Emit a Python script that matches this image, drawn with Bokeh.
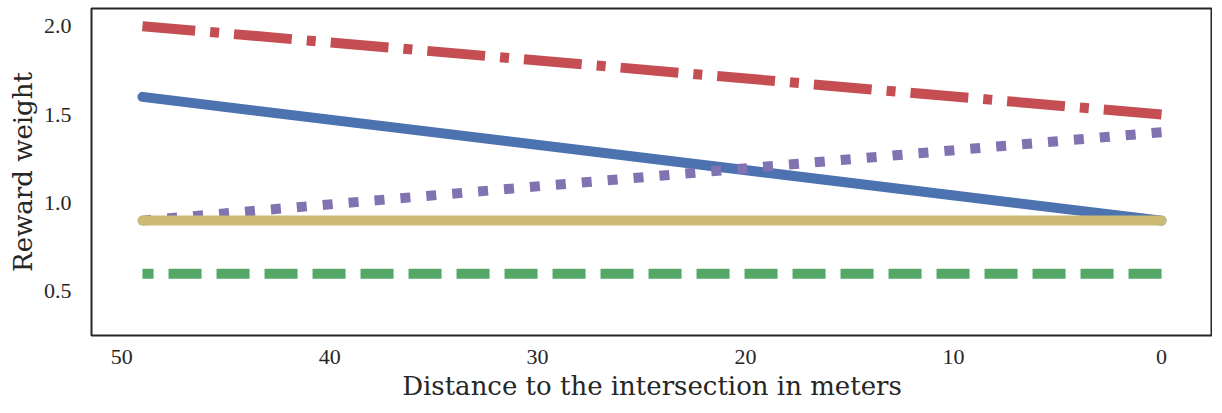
from bokeh.plotting import figure
from bokeh.models import Range1d, FixedTicker
from bokeh.embed import file_html
from bokeh.resources import INLINE

# Data (distance in meters -> reward weight)
distance = [0, 49]
w_blue = [0.9, 1.6]      # solid
w_green = [0.6, 0.6]     # dashed
w_red = [1.5, 2.0]       # dash-dot
w_purple = [1.4, 0.9]    # dotted
w_gold = [0.9, 0.9]      # solid

x_ticks = [50, 40, 30, 20, 10, 0]
y_ticks = [0.5, 1.0, 1.5, 2.0]

FONT = "Liberation Serif"
LABEL_FONT = "DejaVu Serif"

p = figure(width=1212, height=403, output_backend="svg", toolbar_location=None,
           x_range=Range1d(51.45, -2.45), y_range=Range1d(0.25, 2.1),
           min_border_left=91, min_border_right=0, min_border_top=8, min_border_bottom=64)

p.background_fill_color = "white"
p.border_fill_color = "white"
p.outline_line_color = "#262626"
p.outline_line_width = 2
p.xgrid.visible = False
p.ygrid.visible = False

lw = 10
p.line(distance, w_blue, line_color="#4C72B0", line_width=lw, line_cap="round")
p.line(distance, w_green, line_color="#55A868", line_width=lw, line_dash="33 15")
p.line(distance, w_red, line_color="#C44E52", line_width=lw, line_dash="58 15 9 15")
p.line(distance, w_purple, line_color="#8172B2", line_width=lw, line_dash="10 16")
p.line(distance, w_gold, line_color="#CCB974", line_width=lw, line_cap="round")

for ax in (p.xaxis[0], p.yaxis[0]):
    ax.axis_line_color = None
    ax.major_tick_line_color = None
    ax.minor_tick_line_color = None
    ax.major_label_text_font = FONT
    ax.major_label_text_font_size = "22px"
    ax.major_label_text_color = "#262626"
    ax.axis_label_text_font = LABEL_FONT
    ax.axis_label_text_font_size = "26px"
    ax.axis_label_text_font_style = "normal"
    ax.axis_label_text_color = "#262626"

p.xaxis.ticker = FixedTicker(ticks=x_ticks)
p.yaxis.ticker = FixedTicker(ticks=y_ticks)
p.yaxis.major_label_overrides = {v: f"{v:.1f}" for v in y_ticks}
p.xaxis.axis_label = "Distance to the intersection in meters"
p.yaxis.axis_label = "Reward weight"
p.xaxis.major_label_standoff = 8
p.yaxis.major_label_standoff = 14
p.xaxis.axis_label_standoff = 4
p.yaxis.axis_label_standoff = 3

open("out.html", "w").write(file_html(p, INLINE))
